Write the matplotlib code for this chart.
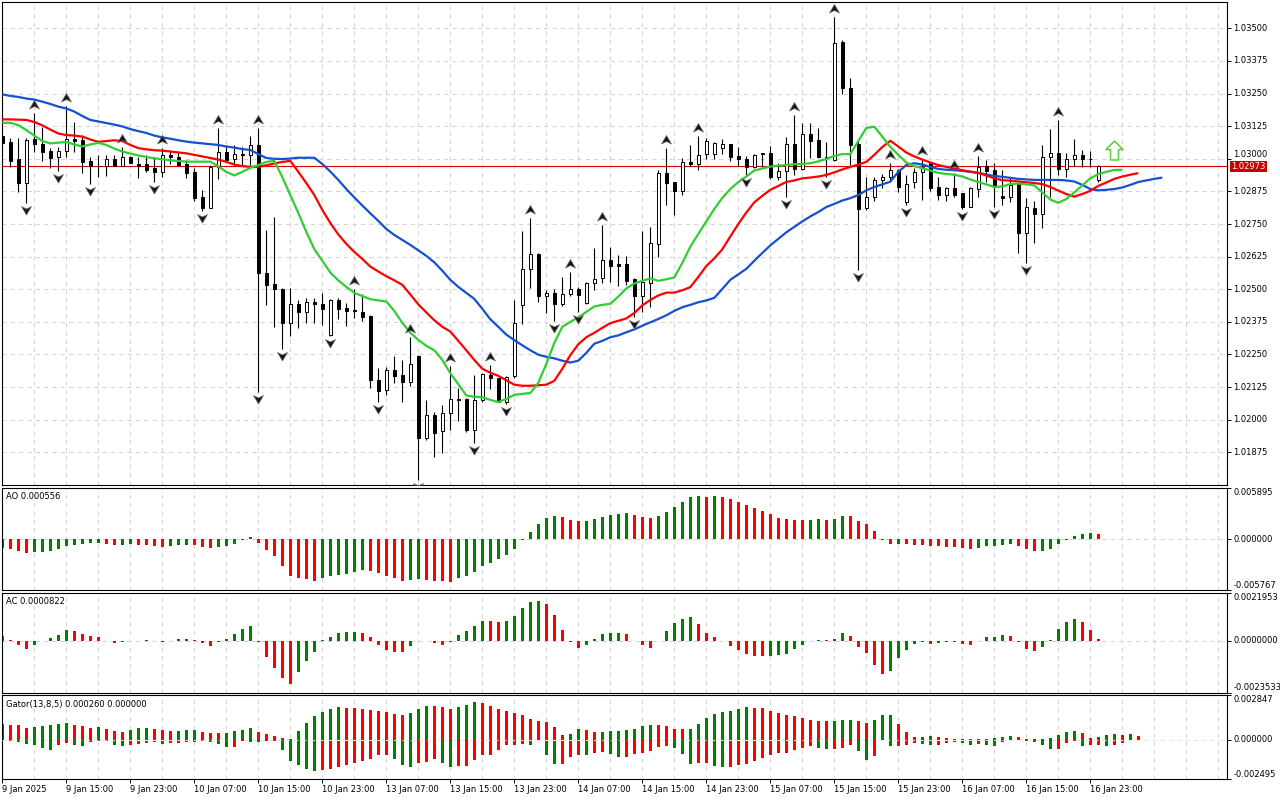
import matplotlib
matplotlib.use("Agg")
import matplotlib.pyplot as plt
import numpy as np
from matplotlib.path import Path
from matplotlib.transforms import blended_transform_factory

plt.rcParams['font.family'] = ['DejaVu Sans']
plt.rcParams['lines.scale_dashes'] = False

# ---------------- data (EURUSD H1, 9 Jan 07:00 .. 17 Jan 00:00) ----------------
opens = [1.03087,1.03066,1.02999,1.02906,1.03076,1.03057,1.03030,1.03006,1.03030,1.03077,
         1.03072,1.02992,1.02973,1.02972,1.02999,1.02974,1.03006,1.02980,1.02979,1.02966,
         1.02951,1.03013,1.03008,1.02980,1.02949,1.02852,1.02813,1.02967,1.03025,1.02998,
         1.03018,1.03013,1.03052,1.02564,1.02520,1.02501,1.02369,1.02442,1.02412,1.02450,
         1.02442,1.02325,1.02459,1.02427,1.02420,1.02411,1.02397,1.02152,1.02114,1.02190,
         1.02171,1.02146,1.02245,1.01928,1.02018,1.01957,1.02024,1.02079,1.02079,1.01960,
         1.02075,1.02171,1.02158,1.02066,1.02167,1.02440,1.02576,1.02635,1.02475,1.02484,
         1.02443,1.02482,1.02500,1.02446,1.02522,1.02542,1.02612,1.02597,1.02597,1.02538,
         1.02475,1.02525,1.02673,1.02944,1.02910,1.02878,1.02986,1.02979,1.03017,1.03017,
         1.03040,1.03055,1.03011,1.02998,1.02967,1.03021,1.03021,1.02929,1.02954,1.03055,
         1.02960,1.03094,1.03072,1.03008,1.02995,1.03446,1.03270,1.03057,1.02810,1.02852,
         1.02919,1.02929,1.02957,1.02836,1.02912,1.02948,1.02985,1.02891,1.02861,1.02887,
         1.02868,1.02816,1.02883,1.02972,1.02957,1.02857,1.02852,1.02906,1.02714,1.02810,
         1.02787,1.03006,1.03021,1.02960,1.02998,1.03014,1.02999,1.02919]
highs = [1.03100,1.03078,1.03078,1.03078,1.03174,1.03121,1.03040,1.03046,1.03202,1.03142,
         1.03091,1.03008,1.03015,1.03015,1.03015,1.03046,1.03011,1.03008,1.03015,1.03008,
         1.03040,1.03031,1.03030,1.02995,1.02963,1.02880,1.02976,1.03117,1.03053,1.03052,
         1.03046,1.03087,1.03117,1.02727,1.02778,1.02504,1.02504,1.02459,1.02465,1.02465,
         1.02484,1.02463,1.02468,1.02446,1.02500,1.02480,1.02401,1.02197,1.02203,1.02244,
         1.02229,1.02316,1.02248,1.02075,1.02031,1.02056,1.02207,1.02120,1.02084,1.02171,
         1.02178,1.02210,1.02161,1.02167,1.02459,1.02724,1.02772,1.02640,1.02497,1.02500,
         1.02548,1.02567,1.02510,1.02529,1.02657,1.02746,1.02661,1.02631,1.02627,1.02542,
         1.02724,1.02740,1.02957,1.03043,1.02912,1.03002,1.03053,1.03087,1.03078,1.03066,
         1.03074,1.03057,1.03046,1.03011,1.03018,1.03023,1.03050,1.02983,1.03082,1.03168,
         1.03138,1.03136,1.03117,1.03066,1.03545,1.03455,1.03308,1.03074,1.02931,1.02931,
         1.02942,1.02985,1.02960,1.02938,1.02963,1.02998,1.02989,1.02929,1.02893,1.02944,
         1.02870,1.02891,1.03011,1.02995,1.02985,1.02957,1.02931,1.02912,1.02848,1.02838,
         1.03053,1.03113,1.03149,1.03023,1.03074,1.03034,1.03031,1.02976]
lows = [1.03045,1.02967,1.02874,1.02829,1.03027,1.02993,1.02963,1.02955,1.03006,1.03027,
        1.02944,1.02903,1.02932,1.02934,1.02972,1.02972,1.02983,1.02928,1.02951,1.02912,
        1.02932,1.02979,1.02975,1.02925,1.02840,1.02801,1.02810,1.02923,1.02986,1.02976,
        1.02976,1.02976,1.02107,1.02440,1.02357,1.02270,1.02322,1.02350,1.02369,1.02369,
        1.02363,1.02321,1.02385,1.02359,1.02388,1.02380,1.02120,1.02069,1.02095,1.02139,
        1.02069,1.02129,1.01769,1.01922,1.01856,1.01874,1.01960,1.01996,1.01954,1.01909,
        1.02069,1.02116,1.02066,1.02060,1.02158,1.02367,1.02503,1.02452,1.02408,1.02380,
        1.02436,1.02474,1.02414,1.02443,1.02497,1.02525,1.02529,1.02512,1.02516,1.02392,
        1.02414,1.02431,1.02625,1.02823,1.02784,1.02861,1.02974,1.02957,1.02998,1.02998,
        1.03018,1.02993,1.02974,1.02938,1.02963,1.02967,1.02921,1.02919,1.02855,1.02938,
        1.02957,1.03002,1.03002,1.02931,1.02993,1.03247,1.02976,1.02574,1.02804,1.02839,
        1.02887,1.02916,1.02874,1.02823,1.02887,1.02842,1.02878,1.02842,1.02839,1.02852,
        1.02806,1.02814,1.02855,1.02912,1.02816,1.02823,1.02836,1.02638,1.02599,1.02676,
        1.02736,1.02855,1.02938,1.02931,1.02972,1.02967,1.02967,1.02912]
closes = [1.03062,1.02993,1.02906,1.03072,1.03055,1.03027,1.03004,1.03030,1.03075,1.03068,
          1.02989,1.02972,1.02971,1.02998,1.02974,1.03006,1.02985,1.02974,1.02957,1.02951,
          1.03013,1.03007,1.02976,1.02947,1.02848,1.02810,1.02967,1.03025,1.02995,1.03018,
          1.03013,1.03052,1.02561,1.02516,1.02500,1.02369,1.02442,1.02412,1.02450,1.02442,
          1.02426,1.02459,1.02424,1.02418,1.02416,1.02395,1.02152,1.02111,1.02190,1.02169,
          1.02146,1.02212,1.01928,1.02018,1.01950,1.02024,1.02079,1.02075,1.01960,1.02075,
          1.02175,1.02158,1.02069,1.02162,1.02372,1.02576,1.02634,1.02475,1.02484,1.02443,
          1.02482,1.02500,1.02478,1.02522,1.02538,1.02612,1.02590,1.02590,1.02532,1.02475,
          1.02529,1.02676,1.02944,1.02908,1.02878,1.02989,1.02979,1.03014,1.03069,1.03059,
          1.03055,1.03008,1.02998,1.02967,1.03014,1.03017,1.02929,1.02954,1.03055,1.02960,
          1.03094,1.03069,1.03006,1.03004,1.03442,1.03270,1.03053,1.02806,1.02852,1.02919,
          1.02929,1.02957,1.02891,1.02903,1.02948,1.02970,1.02887,1.02861,1.02887,1.02861,
          1.02816,1.02887,1.02970,1.02954,1.02891,1.02848,1.02900,1.02714,1.02814,1.02787,
          1.03006,1.03021,1.02960,1.02998,1.03014,1.02998,1.02998,1.02973]

# Alligator (drawn with their forward shifts: jaw 8, teeth 5, lips 3)
jaw = [1.03247,1.03241,1.03237,1.03231,1.03227,1.03219,1.03210,1.03200,1.03193,1.03181,
       1.03164,1.03149,1.03143,1.03137,1.03131,1.03124,1.03114,1.03106,1.03099,1.03089,
       1.03082,1.03077,1.03071,1.03066,1.03062,1.03059,1.03056,1.03053,1.03047,1.03043,
       1.03037,1.03034,1.03018,1.03003,1.03000,1.02999,1.03001,1.03004,1.03004,1.03004,
       1.02980,1.02951,1.02919,1.02884,1.02852,1.02821,1.02791,1.02762,1.02731,1.02708,
       1.02689,1.02670,1.02649,1.02628,1.02603,1.02571,1.02536,1.02509,1.02486,1.02463,
       1.02425,1.02385,1.02356,1.02326,1.02305,1.02285,1.02266,1.02249,1.02241,1.02235,
       1.02226,1.02219,1.02226,1.02256,1.02291,1.02302,1.02316,1.02323,1.02335,1.02346,
       1.02360,1.02373,1.02386,1.02400,1.02417,1.02431,1.02440,1.02450,1.02457,1.02467,
       1.02501,1.02536,1.02557,1.02578,1.02609,1.02639,1.02668,1.02693,1.02718,1.02739,
       1.02760,1.02779,1.02796,1.02815,1.02827,1.02840,1.02849,1.02861,1.02879,1.02892,
       1.02902,1.02912,1.02950,1.02976,1.02983,1.02978,1.02969,1.02961,1.02958,1.02956,
       1.02954,1.02950,1.02946,1.02940,1.02934,1.02931,1.02927,1.02923,1.02921,1.02919,
       1.02919,1.02919,1.02919,1.02917,1.02913,1.02900,1.02884,1.02879,1.02881,1.02884,
       1.02890,1.02900,1.02911,1.02917,1.02923,1.02928]
teeth = [1.03151,1.03151,1.03150,1.03149,1.03141,1.03128,1.03112,1.03097,1.03091,1.03089,
         1.03085,1.03074,1.03065,1.03068,1.03071,1.03068,1.03053,1.03041,1.03036,1.03033,
         1.03031,1.03028,1.03024,1.03021,1.03015,1.03009,1.03003,1.02997,1.02988,1.02978,
         1.02972,1.02969,1.02969,1.02975,1.02982,1.02988,1.02992,1.02950,1.02907,1.02861,
         1.02804,1.02754,1.02710,1.02674,1.02643,1.02616,1.02587,1.02568,1.02550,1.02534,
         1.02517,1.02480,1.02442,1.02411,1.02381,1.02356,1.02338,1.02302,1.02266,1.02229,
         1.02195,1.02180,1.02168,1.02151,1.02134,1.02130,1.02130,1.02132,1.02134,1.02149,
         1.02195,1.02247,1.02289,1.02316,1.02333,1.02352,1.02370,1.02379,1.02388,1.02409,
         1.02438,1.02459,1.02476,1.02487,1.02487,1.02496,1.02508,1.02547,1.02589,1.02618,
         1.02653,1.02702,1.02750,1.02794,1.02833,1.02858,1.02881,1.02896,1.02911,1.02917,
         1.02925,1.02928,1.02932,1.02938,1.02948,1.02959,1.02969,1.02978,1.02988,1.03015,
         1.03045,1.03069,1.03047,1.03024,1.03009,1.02997,1.02986,1.02976,1.02969,1.02963,
         1.02956,1.02951,1.02946,1.02936,1.02925,1.02918,1.02916,1.02913,1.02910,1.02907,
         1.02903,1.02892,1.02878,1.02865,1.02855,1.02865,1.02877,1.02896,1.02909,1.02923,
         1.02932,1.02939,1.02945]
lips = [1.03138,1.03138,1.03129,1.03110,1.03089,1.03068,1.03059,1.03062,1.03064,1.03055,
        1.03047,1.03055,1.03061,1.03053,1.03039,1.03028,1.03020,1.03013,1.03007,1.03002,
        1.02998,1.02994,1.02992,1.02989,1.02989,1.02989,1.02989,1.02971,1.02950,1.02936,
        1.02950,1.02965,1.02976,1.02988,1.02992,1.02930,1.02861,1.02792,1.02720,1.02654,
        1.02609,1.02564,1.02534,1.02509,1.02486,1.02474,1.02462,1.02457,1.02453,1.02417,
        1.02371,1.02333,1.02306,1.02283,1.02266,1.02229,1.02178,1.02136,1.02093,1.02088,
        1.02086,1.02076,1.02067,1.02080,1.02095,1.02099,1.02102,1.02141,1.02214,1.02294,
        1.02356,1.02375,1.02392,1.02413,1.02434,1.02440,1.02444,1.02472,1.02503,1.02522,
        1.02532,1.02542,1.02532,1.02538,1.02545,1.02601,1.02663,1.02712,1.02760,1.02808,
        1.02850,1.02884,1.02911,1.02932,1.02955,1.02963,1.02970,1.02974,1.02976,1.02979,
        1.02981,1.02983,1.02990,1.02999,1.03011,1.03018,1.03018,1.03068,1.03118,1.03123,
        1.03085,1.03046,1.03015,1.02986,1.02972,1.02964,1.02955,1.02946,1.02942,1.02939,
        1.02932,1.02921,1.02911,1.02902,1.02892,1.02894,1.02903,1.02905,1.02902,1.02898,
        1.02871,1.02844,1.02831,1.02846,1.02871,1.02898,1.02925,1.02941,1.02950,1.02957,
        1.02958]

fractal_up = [4, 8, 15, 20, 27, 32, 44, 51, 56, 61, 66, 71, 75, 83, 87, 99, 104, 111,
              115, 119, 122, 132]
fractal_down = [3, 7, 11, 19, 25, 32, 35, 41, 47, 52, 59, 63, 69, 72, 79, 93, 98, 103,
                107, 113, 120, 124, 128]
signal_bar = [139]
signal_price = [1.03032]
last_price = 1.02973

ao = [-0.00099,-0.00115,-0.00134,-0.00157,-0.00149,-0.00145,-0.00134,-0.00107,-0.00076,-0.00069,
      -0.00057,-0.00042,-0.00038,-0.00057,-0.00069,-0.00065,-0.00057,-0.00065,-0.00069,-0.00080,
      -0.00082,-0.00076,-0.00069,-0.00067,-0.00069,-0.00092,-0.00099,-0.00092,-0.00080,-0.00057,
      -0.00008,0.00023,-0.00042,-0.00126,-0.00191,-0.00309,-0.00413,-0.00443,-0.00451,-0.00470,
      -0.00443,-0.00420,-0.00405,-0.00390,-0.00367,-0.00351,-0.00355,-0.00386,-0.00413,-0.00443,
      -0.00470,-0.00458,-0.00456,-0.00462,-0.00470,-0.00479,-0.00481,-0.00443,-0.00413,-0.00367,
      -0.00306,-0.00271,-0.00229,-0.00183,-0.00115,-0.00004,0.00080,0.00172,0.00241,0.00264,
      0.00252,0.00222,0.00210,0.00212,0.00229,0.00252,0.00275,0.00287,0.00298,0.00275,
      0.00252,0.00241,0.00264,0.00309,0.00367,0.00424,0.00481,0.00493,0.00481,0.00491,
      0.00481,0.00458,0.00424,0.00390,0.00355,0.00321,0.00287,0.00241,0.00229,0.00218,
      0.00216,0.00218,0.00229,0.00222,0.00229,0.00264,0.00262,0.00206,0.00172,0.00092,
      -0.00004,-0.00057,-0.00055,-0.00057,-0.00067,-0.00069,-0.00078,-0.00080,-0.00090,-0.00092,
      -0.00101,-0.00113,-0.00099,-0.00076,-0.00074,-0.00065,-0.00053,-0.00076,-0.00111,-0.00134,
      -0.00132,-0.00111,-0.00053,-0.00004,0.00042,0.00065,0.00067,0.000556]
ac = [0.00023,0.00004,-0.00018,-0.00036,-0.00018,-0.00003,0.00012,0.00027,0.00050,0.00045,
      0.00032,0.00023,0.00018,0.00000,-0.00012,-0.00007,-0.00003,0.00001,0.00002,0.00000,
      -0.00006,-0.00002,0.00008,0.00009,0.00005,-0.00011,-0.00022,-0.00006,0.00009,0.00031,
      0.00055,0.00065,-0.00006,-0.00076,-0.00122,-0.00170,-0.00195,-0.00144,-0.00090,-0.00049,
      0.00003,0.00018,0.00036,0.00041,0.00042,0.00036,0.00018,-0.00018,-0.00041,-0.00050,
      -0.00053,-0.00023,-0.00002,0.00001,-0.00012,-0.00018,-0.00006,0.00027,0.00046,0.00068,
      0.00091,0.00090,0.00087,0.00091,0.00114,0.00150,0.00178,0.00182,0.00169,0.00119,
      0.00050,-0.00006,-0.00032,-0.00018,0.00009,0.00032,0.00036,0.00037,0.00032,-0.00001,
      -0.00021,-0.00032,-0.00001,0.00046,0.00082,0.00100,0.00109,0.00078,0.00036,0.00018,
      -0.00003,-0.00023,-0.00041,-0.00059,-0.00068,-0.00069,-0.00068,-0.00067,-0.00059,-0.00036,
      -0.00018,-0.00003,0.00003,0.00002,0.00009,0.00036,0.00023,-0.00027,-0.00055,-0.00109,
      -0.00150,-0.00137,-0.00078,-0.00041,-0.00014,-0.00006,-0.00014,-0.00008,-0.00007,-0.00006,
      -0.00014,-0.00018,-0.00002,0.00018,0.00019,0.00027,0.00023,-0.00006,-0.00036,-0.00046,
      -0.00027,0.00003,0.00055,0.00087,0.00100,0.00087,0.00050,0.0000822]
gator_up = [0.00100,0.00095,0.00091,0.00078,0.00080,0.00085,0.00091,0.00102,0.00108,0.00095,
            0.00085,0.00074,0.00083,0.00068,0.00057,0.00051,0.00064,0.00076,0.00077,0.00070,
            0.00064,0.00057,0.00058,0.00059,0.00060,0.00051,0.00045,0.00040,0.00041,0.00053,
            0.00064,0.00072,0.00051,0.00034,0.00021,0.00011,0.00006,0.00057,0.00104,0.00148,
            0.00178,0.00197,0.00210,0.00204,0.00202,0.00197,0.00191,0.00184,0.00178,0.00165,
            0.00159,0.00172,0.00197,0.00216,0.00215,0.00210,0.00197,0.00210,0.00223,0.00242,
            0.00233,0.00216,0.00197,0.00184,0.00172,0.00159,0.00134,0.00121,0.00114,0.00081,
            0.00028,0.00038,0.00070,0.00064,0.00051,0.00052,0.00057,0.00058,0.00064,0.00070,
            0.00089,0.00095,0.00094,0.00089,0.00070,0.00069,0.00070,0.00102,0.00140,0.00165,
            0.00178,0.00184,0.00197,0.00210,0.00204,0.00202,0.00184,0.00172,0.00159,0.00153,
            0.00140,0.00127,0.00121,0.00120,0.00121,0.00127,0.00128,0.00121,0.00108,0.00127,
            0.00159,0.00160,0.00102,0.00051,0.00019,0.00020,0.00025,0.00019,0.00013,0.00006,
            0.00005,0.00003,0.00002,0.00004,0.00013,0.00019,0.00025,0.00019,0.00006,0.00005,
            0.00004,0.00013,0.00032,0.00051,0.00057,0.00045,0.00013,0.00019,0.00032,0.00038,
            0.00032,0.00038,0.00026]
gator_down = [-0.00011,-0.00007,-0.00017,-0.00028,-0.00036,-0.00053,-0.00068,-0.00036,-0.00023,-0.00036,
              -0.00042,-0.00017,-0.00006,-0.00011,-0.00036,-0.00042,-0.00036,-0.00028,-0.00023,-0.00017,
              -0.00025,-0.00023,-0.00021,-0.00012,-0.00014,-0.00008,-0.00012,-0.00028,-0.00049,-0.00048,
              -0.00011,-0.00012,-0.00013,-0.00011,-0.00010,-0.00064,-0.00138,-0.00159,-0.00184,-0.00201,
              -0.00191,-0.00184,-0.00172,-0.00159,-0.00146,-0.00134,-0.00121,-0.00100,-0.00095,-0.00121,
              -0.00159,-0.00172,-0.00146,-0.00140,-0.00121,-0.00146,-0.00172,-0.00170,-0.00165,-0.00127,
              -0.00100,-0.00095,-0.00066,-0.00032,-0.00031,-0.00030,-0.00032,-0.00011,-0.00095,-0.00153,
              -0.00152,-0.00112,-0.00095,-0.00096,-0.00083,-0.00076,-0.00091,-0.00108,-0.00107,-0.00091,
              -0.00087,-0.00074,-0.00049,-0.00042,-0.00055,-0.00093,-0.00151,-0.00149,-0.00148,-0.00170,
              -0.00176,-0.00175,-0.00163,-0.00157,-0.00138,-0.00119,-0.00100,-0.00087,-0.00081,-0.00068,
              -0.00055,-0.00042,-0.00055,-0.00061,-0.00060,-0.00055,-0.00036,-0.00074,-0.00131,-0.00106,
              -0.00004,-0.00042,-0.00041,-0.00036,-0.00023,-0.00024,-0.00036,-0.00035,-0.00023,-0.00017,
              -0.00023,-0.00036,-0.00030,-0.00036,-0.00037,-0.00017,-0.00003,-0.00002,-0.00011,-0.00017,
              -0.00036,-0.00061,-0.00060,-0.00023,-0.00011,-0.00042,-0.00036,-0.00035,-0.00042,-0.00036,
              -0.00023]

date_bars = [0, 8, 16, 24, 32, 40, 48, 56, 64, 72, 80, 88, 96, 104, 112, 120, 128, 136]
date_labels = ["9 Jan 2025", "9 Jan 15:00", "9 Jan 23:00", "10 Jan 07:00", "10 Jan 15:00",
               "10 Jan 23:00", "13 Jan 07:00", "13 Jan 15:00", "13 Jan 23:00", "14 Jan 07:00",
               "14 Jan 15:00", "14 Jan 23:00", "15 Jan 07:00", "15 Jan 15:00", "15 Jan 23:00",
               "16 Jan 07:00", "16 Jan 15:00", "16 Jan 23:00"]
price_ticks = [1.03500, 1.03375, 1.03250, 1.03125, 1.03000, 1.02875, 1.02750, 1.02625,
               1.02500, 1.02375, 1.02250, 1.02125, 1.02000, 1.01875]
ao_scale = [0.005895, 0.0, -0.005767]
ac_scale = [0.0021953, 0.0, -0.0023533]
gator_scale = [0.002847, 0.0, -0.002495]

# ---------------- layout ----------------
W, H = 1280, 800
fig = plt.figure(figsize=(12.8, 8), dpi=100)
fig.patch.set_facecolor('white')

def ax_at(x0, y0, x1, y1):
    return fig.add_axes([x0 / W, 1 - y1 / H, (x1 - x0) / W, (y1 - y0) / H])

XL = (-0.04, 153.09)
GRID_C = '#d4d4d4'
GRID_LS = (0, (3.0, 3.0))
GREEN_BAR = '#008000'
RED_BAR = '#ff0000'

ax_main = ax_at(2, 2, 1227, 485)
ax_ao = ax_at(2, 487.5, 1227, 590)
ax_ac = ax_at(2, 592.5, 1227, 692.5)
ax_g = ax_at(2, 695, 1227, 779)
axes = [ax_main, ax_ao, ax_ac, ax_g]

for ax in axes:
    ax.set_xlim(*XL)
    ax.set_facecolor('white')
    for sp in ax.spines.values():
        sp.set_linewidth(0.8)
        sp.set_color('black')
    ax.set_xticks([])
    for g in range(0, 153, 4):
        ax.axvline(g, color=GRID_C, lw=0.75, ls=GRID_LS, zorder=0)

def right_ticks(ax, vals, labels, vas=None):
    ax.yaxis.tick_right()
    ax.set_yticks(vals)
    tl = ax.set_yticklabels(labels)
    ax.tick_params(axis='y', direction='out', length=3, width=0.7, pad=1.5,
                   colors='black', labelsize=6)
    if vas:
        for t, va in zip(tl, vas):
            t.set_va(va)
    return tl

# ---------------- main price chart ----------------
ax_main.set_ylim(1.017496, 1.036010)
for p in price_ticks:
    ax_main.axhline(p, color=GRID_C, lw=0.75, ls=GRID_LS, zorder=0)
# the 1.03000 label sits just above the current-price box, as in the terminal
main_vas = ['bottom' if abs(p - 1.03) < 1e-9 else 'center' for p in price_ticks]
right_ticks(ax_main, price_ticks, ["%.5f" % p for p in price_ticks], main_vas)

o = np.array(opens); h = np.array(highs); l = np.array(lows); c = np.array(closes)
idx = np.arange(len(o))
bull = c >= o
ax_main.axhline(last_price, color='#e00000', lw=0.8, zorder=1)
ax_main.vlines(idx, l, h, color='black', lw=0.8, zorder=3)
ax_main.bar(idx, np.abs(c - o), bottom=np.minimum(o, c), width=0.40,
            color=np.where(bull, 'white', 'black'), edgecolor='black', linewidth=0.7, zorder=4)

ax_main.plot(np.arange(len(jaw)), jaw, color='#1450d2', lw=1.6, zorder=5, solid_capstyle='butt')
ax_main.plot(np.arange(len(teeth)), teeth, color='#ff0000', lw=1.6, zorder=5, solid_capstyle='butt')
ax_main.plot(np.arange(len(lips)), lips, color='#32cd32', lw=1.6, zorder=5, solid_capstyle='butt')

up_path = Path([(0, 13), (5, 4.5), (0, 7), (-5, 4.5), (0, 13)],
               [Path.MOVETO, Path.LINETO, Path.LINETO, Path.LINETO, Path.CLOSEPOLY])
dn_path = Path([(0, -11.5), (5, -3), (0, -5.5), (-5, -3), (0, -11.5)],
               [Path.MOVETO, Path.LINETO, Path.LINETO, Path.LINETO, Path.CLOSEPOLY])
fu = np.array(fractal_up); fd = np.array(fractal_down)
ax_main.plot(fu, h[fu], ls='none', marker=up_path, ms=2 * 13 * 0.72,
             mfc='#151515', mec='#6b6b6b', mew=0.5, zorder=6)
ax_main.plot(fd, l[fd], ls='none', marker=dn_path, ms=2 * 11.5 * 0.72,
             mfc='#151515', mec='#6b6b6b', mew=0.5, zorder=6)

arrow_path = Path([(0, 9.5), (8.5, 1), (4, 1), (4, -9.5), (-4, -9.5), (-4, 1), (-8.5, 1), (0, 9.5)],
                  [Path.MOVETO] + [Path.LINETO] * 6 + [Path.CLOSEPOLY])
ax_main.plot(signal_bar, signal_price, ls='none', marker=arrow_path, ms=2 * 9.5 * 0.72,
             mfc='white', mec='#5ccc3c', mew=1.1, zorder=6)

trans = blended_transform_factory(ax_main.transAxes, ax_main.transData)
ax_main.annotate("%.5f" % last_price, xy=(1.0, last_price), xycoords=trans,
                 xytext=(3.2, -0.6), textcoords='offset points', ha='left', va='center',
                 fontsize=6, color='white', zorder=20, annotation_clip=False,
                 bbox=dict(boxstyle='square,pad=0.12', fc='#c80000', ec='none'))

# ---------------- oscillators ----------------
def colors_from(vals, first, use_abs=False):
    v = np.abs(np.array(vals)) if use_abs else np.array(vals)
    cols = [first]
    for i in range(1, len(v)):
        if v[i] > v[i - 1]:
            cols.append(GREEN_BAR)
        elif v[i] < v[i - 1]:
            cols.append(RED_BAR)
        else:
            cols.append(cols[-1])
    return cols

def zero_line(ax, z=0.5, color=GRID_C):
    ax.axhline(0, color=color, lw=0.75, ls=GRID_LS, zorder=z)

# AO
ax_ao.set_ylim(ao_scale[2], ao_scale[0])
zero_line(ax_ao)
ax_ao.bar(np.arange(len(ao)), ao, width=0.42, color=colors_from(ao, GREEN_BAR), linewidth=0, zorder=2)
right_ticks(ax_ao, ao_scale, ["%.6f" % v for v in ao_scale], ['top', 'center', 'bottom'])

# AC
ax_ac.set_ylim(ac_scale[2], ac_scale[0])
zero_line(ax_ac)
ax_ac.bar(np.arange(len(ac)), ac, width=0.42, color=colors_from(ac, RED_BAR), linewidth=0, zorder=2)
right_ticks(ax_ac, ac_scale, ["%.7f" % v for v in ac_scale], ['top', 'center', 'bottom'])

# Gator
ax_g.set_ylim(gator_scale[2], gator_scale[0])
ax_g.bar(np.arange(len(gator_up)), gator_up, width=0.42,
         color=colors_from(gator_up, GREEN_BAR, True), linewidth=0, zorder=2)
ax_g.bar(np.arange(len(gator_down)), gator_down, width=0.42,
         color=colors_from(gator_down, RED_BAR, True), linewidth=0, zorder=2)
zero_line(ax_g, z=3, color='#e6e6e6')
right_ticks(ax_g, gator_scale, ["%.6f" % v for v in gator_scale], ['top', 'center', 'bottom'])

ax_g.set_xticks(date_bars)
xl = ax_g.set_xticklabels(date_labels)
ax_g.tick_params(axis='x', direction='out', length=3, width=0.7, pad=1.5,
                 colors='black', labelsize=6)
for t in xl:
    t.set_ha('left')

# panel captions
fig.text(6 / W, 1 - 496.7 / H, "AO 0.000556", fontsize=6, ha='left', va='center')
fig.text(6 / W, 1 - 601.7 / H, "AC 0.0000822", fontsize=6, ha='left', va='center')
fig.text(6 / W, 1 - 704.3 / H, "Gator(13,8,5) 0.000260 0.000000", fontsize=6, ha='left', va='center')

fig.savefig("out.png", dpi=100, facecolor='white')
